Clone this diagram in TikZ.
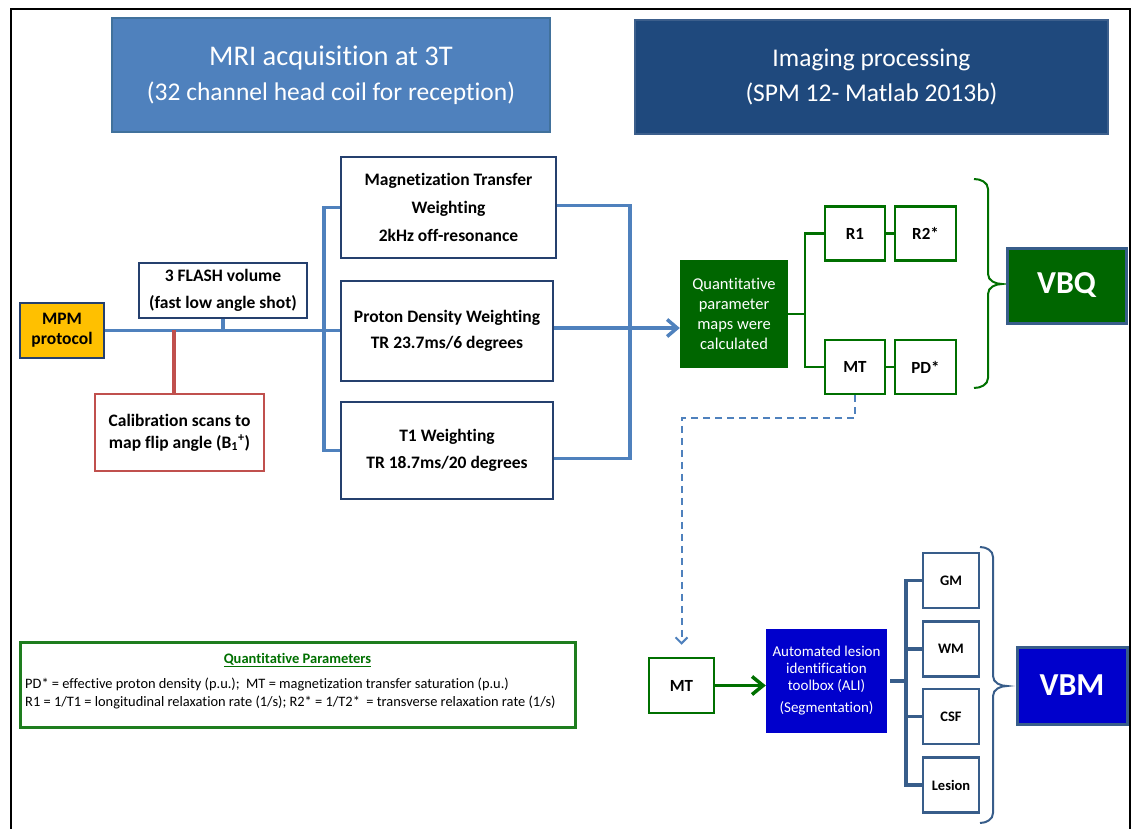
\documentclass[tikz,border=0pt]{standalone}
\usepackage{fontspec}
\setmainfont{Carlito}[Ligatures=NoCommon]
\usetikzlibrary{arrows.meta}

\definecolor{acqfill}{RGB}{79,129,189}
\definecolor{acqedge}{RGB}{65,113,156}
\definecolor{procfill}{RGB}{31,73,125}
\definecolor{procedge}{RGB}{60,95,140}
\definecolor{navy}{RGB}{37,64,110}
\definecolor{flow}{RGB}{79,129,189}
\definecolor{calred}{RGB}{192,80,77}
\definecolor{mpmfill}{RGB}{255,192,0}
\definecolor{qgreen}{RGB}{0,102,0}
\definecolor{qedge}{RGB}{0,112,0}
\definecolor{legedge}{RGB}{30,125,30}
\definecolor{aliblue}{RGB}{0,0,204}
\definecolor{segedge}{RGB}{56,93,138}

\newcommand\fsz[2]{\fontsize{#1}{#2}\selectfont}

\tikzset{
  hdr/.style={draw, line width=2pt, text=white, align=center, inner sep=0pt},
  acqbox/.style={draw=navy, line width=2.5pt, fill=white, align=center, inner sep=0pt},
  qbox/.style={draw=qedge, line width=2.5pt, fill=white, align=center, inner sep=0pt,
    minimum width=60pt, minimum height=54pt, font=\bfseries\fsz{17}{20}},
  segbox/.style={draw=segedge, line width=2.5pt, fill=white, align=center, inner sep=0pt,
    minimum width=56pt, minimum height=55pt, font=\bfseries\fsz{14.5}{17}},
  flowline/.style={draw=flow, line width=3.5pt},
  greenline/.style={draw=qedge, line width=2.5pt},
  segline/.style={draw=segedge, line width=3.5pt},
  bracepath/.style={line width=2pt},
}

\begin{document}
\begin{tikzpicture}[x=1pt, y=-1pt]
\useasboundingbox (0,0) rectangle (1132,829);

% page frame (open at the bottom)
\draw[line width=2.5pt, black] (11,829) -- (11,9) -- (1130,9) -- (1130,829);

% section headers
\node[hdr, draw=acqedge, fill=acqfill, minimum width=438pt, minimum height=114pt,
  font=\fsz{28.5}{35}] (hacq) at (331,75)
  {MRI acquisition at 3T\\\fsz{25.5}{35}(32 channel head coil for reception)};
\node[hdr, draw=procedge, fill=procfill, minimum width=473pt, minimum height=114pt,
  font=\fsz{25.5}{35}] (hproc) at (871.5,77)
  {Imaging processing\\(SPM 12- Matlab 2013b)};

% acquisition branch
\node[draw=navy, line width=2.5pt, fill=mpmfill, align=center, inner sep=0pt,
  minimum width=84pt, minimum height=55pt, font=\bfseries\fsz{17.5}{20}] (mpm) at (62,330.5) {MPM\\protocol};
\node[acqbox, minimum width=168pt, minimum height=55pt, font=\bfseries\fsz{17.5}{27}] (flash) at (223,290.5)
  {3 FLASH volume\\(fast low angle shot)};
\node[acqbox, draw=calred, minimum width=169pt, minimum height=77pt, font=\bfseries\fsz{17.5}{22}] (calib) at (179.5,432.5)
  {Calibration scans to\\map flip angle (B\textsubscript{1}\textsuperscript{+})};

\node[acqbox, minimum width=215pt, minimum height=101pt, font=\bfseries\fsz{17.5}{28}] (mtw) at (448.5,207.5)
  {Magnetization Transfer\\Weighting\\2kHz off-resonance};
\node[acqbox, minimum width=212pt, minimum height=100pt, font=\bfseries\fsz{17.5}{26}] (pdw) at (447,331)
  {Proton Density Weighting\\TR 23.7ms/6 degrees};
\node[acqbox, minimum width=212pt, minimum height=97pt, font=\bfseries\fsz{17.5}{27}] (t1w) at (447,450.5)
  {T1 Weighting\\TR 18.7ms/20 degrees};

% junctions of the acquisition connectors
\coordinate (calj) at (174,330);
\coordinate (lbar) at (324,330);
\coordinate (rbar) at (630,330);

\draw[flowline] (mpm.east) -- (mpm.east -| pdw.west);
\draw[flowline] (flash.south) -- (flash.south |- mpm.east);
\draw[draw=calred, line width=3.5pt] (calj) -- (calj |- calib.north);
\draw[flowline] (mtw.west) -- (mtw.west -| lbar) -- (t1w.west -| lbar) -- (t1w.west);
\draw[flowline] ([yshift=2pt]mtw.east) -- ([yshift=2pt]mtw.east -| rbar)
  -- ([yshift=-8pt]t1w.east -| rbar) -- ([yshift=-8pt]t1w.east);

% quantitative maps
\node[fill=qgreen, text=white, align=center, inner sep=0pt, minimum width=108pt, minimum height=108pt,
  font=\fsz{16.5}{20}] (qpm) at (734,314) {Quantitative\\parameter\\maps were\\calculated};
\draw[flowline, -{Straight Barb[length=10pt, width=17pt]}] ([yshift=3pt]pdw.east) -- ([yshift=3pt]pdw.east -| qpm.west);

\node[qbox] (r1) at (855,233.5) {R1};
\node[qbox, minimum width=61pt] (r2) at (925.5,233.5) {R2*};
\node[qbox] (mtq) at (855,367) {MT};
\node[qbox, minimum width=61pt] (pdq) at (925.5,367) {PD*};

\coordinate (gbar) at (805,314);
\draw[greenline] (qpm.east) -- (gbar);
\draw[greenline] (r1.west) -- (r1.west -| gbar) -- (mtq.west -| gbar) -- (mtq.west);
\draw[greenline] (r1.east) -- (r2.west);
\draw[greenline] (mtq.east) -- (pdq.west);

% brace grouping the four maps
\coordinate (gbtop) at (974,179);
\draw[bracepath, draw=qedge] (gbtop) to[out=0, in=90] ++(14,10) -- ++(0,85)
  to[out=270, in=180] ++(14,10) to[out=180, in=90] ++(-14,10) -- ++(0,84)
  to[out=270, in=0] ++(-14,10);

\node[draw=segedge, line width=3pt, fill=qgreen, text=white, inner sep=0pt, minimum width=119pt,
  minimum height=75pt, font=\bfseries\fsz{32}{36}] (vbq) at (1066.5,285.5) {VBQ};

% segmentation branch
\node[draw=qedge, line width=2.5pt, fill=white, inner sep=0pt, minimum width=65pt, minimum height=55pt,
  font=\bfseries\fsz{17}{20}] (mt2) at (681.5,685.5) {MT};

\draw[draw=flow, line width=2pt, dash pattern=on 7pt off 5pt, -{Straight Barb[length=6pt, width=12pt]},
  shorten >=12pt] (mtq.south) -- ++(0,23) -| (mt2.north);

\node[fill=aliblue, text=white, align=center, inner sep=0pt, minimum width=121pt, minimum height=104pt,
  font=\fsz{15}{17}] (ali) at (826.5,681)
  {Automated lesion\\identification\\toolbox (ALI)\\[5pt](Segmentation)};
\draw[draw=qedge, line width=3.5pt, -{Straight Barb[length=11pt, width=18pt]}] (mt2.east) -- (mt2.east -| ali.west);

\node[segbox] (gm) at (951,580.5) {GM};
\node[segbox] (wm) at (951,649) {WM};
\node[segbox] (csf) at (951,716.5) {CSF};
\node[segbox] (les) at (951,785) {Lesion};

\coordinate (sbar) at (906,681);
\draw[segline] ([xshift=3pt]ali.east) -- (sbar);
\draw[segline] (gm.west) -- (gm.west -| sbar) -- (les.west -| sbar) -- (les.west);
\draw[segline] (wm.west) -- (wm.west -| sbar);
\draw[segline] (csf.west) -- (csf.west -| sbar);

% brace grouping the tissue classes
\coordinate (bbtop) at (980,547);
\draw[bracepath, draw=segedge] (bbtop) to[out=0, in=90] ++(13,10) -- ++(0,119)
  to[out=270, in=180] ++(14,10) to[out=180, in=90] ++(-14,10) -- ++(0,117)
  to[out=270, in=0] ++(-13,10);

\node[draw=segedge, line width=3pt, fill=aliblue, text=white, inner sep=0pt, minimum width=110pt,
  minimum height=77pt, font=\bfseries\fsz{32}{36}] (vbm) at (1072,685.5) {VBM};

% legend
\node[draw=legedge, line width=3pt, fill=white, inner sep=0pt, minimum width=555pt, minimum height=85pt] (legend) at (297.5,684.5) {};
\node[font=\bfseries\fsz{14.5}{17}, text=qedge, inner sep=0pt] (legtitle) at (297.5,660) {\underline{Quantitative Parameters}};
\node[font=\fsz{14.4}{18}, align=left, anchor=west, inner sep=0pt] (legtext) at (25,693)
  {PD* = effective proton density (p.u.);~ MT = magnetization transfer saturation (p.u.)\\
   R1 = 1/T1 = longitudinal relaxation rate (1/s); R2* = 1/T2*~ = transverse relaxation rate (1/s)};
\end{tikzpicture}
\end{document}
